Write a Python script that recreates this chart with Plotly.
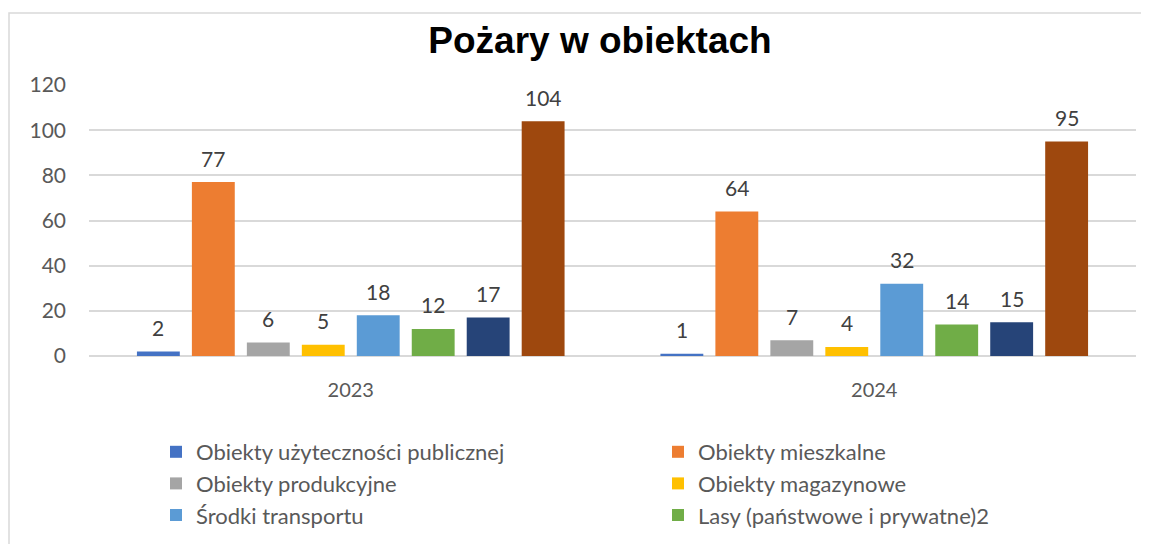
import plotly.graph_objects as go

categories = ["2023", "2024"]
series_names = [
    "Obiekty użyteczności publicznej",
    "Obiekty mieszkalne",
    "Obiekty produkcyjne",
    "Obiekty magazynowe",
    "Środki transportu",
    "Lasy (państwowe i prywatne)2",
    "Uprawy, rolnictwo",
    "Inne",
]
series_values = [
    [2, 1],
    [77, 64],
    [6, 7],
    [5, 4],
    [18, 32],
    [12, 14],
    [17, 15],
    [104, 95],
]
series_colors = ["#4472C4", "#ED7D31", "#A5A5A5", "#FFC000",
                 "#5B9BD5", "#70AD47", "#264478", "#9E480E"]
show_in_legend = [True, True, True, True, True, True, False, False]
y_ticks = [0, 20, 40, 60, 80, 100, 120]

FONT = "Lato, 'Open Sans', sans-serif"

# page has an 8px body margin; figure sized so it fits the 1149x544 window
W, H = 1141, 536
L, R, T, B = 81, 13, 77, 188
pw, ph = W - L - R, H - T - B
BARGAP, GROUPGAP = 0.16, 0.22
n_series = len(series_names)
slot = (pw / len(categories)) * (1 - BARGAP) / n_series

fig = go.Figure()
annotations = []
for i, (name, vals, col, sl) in enumerate(zip(series_names, series_values, series_colors, show_in_legend)):
    fig.add_trace(go.Bar(
        name=name, x=categories, y=vals,
        marker=dict(color=col, line=dict(width=0)),
        showlegend=sl, hoverinfo="name+y",
    ))
    for j, v in enumerate(vals):
        annotations.append(dict(
            x=j, y=v, xref="x", yref="y", text=str(v), showarrow=False,
            xshift=(i - (n_series - 1) / 2) * slot, yshift=24, yanchor="middle",
            font=dict(size=21, color="#404040", family=FONT),
        ))

fig.update_layout(
    width=W, height=H,
    margin=dict(l=L, r=R, t=T, b=B, autoexpand=False),
    paper_bgcolor="white", plot_bgcolor="white",
    barmode="group", bargap=BARGAP, bargroupgap=GROUPGAP,
    font=dict(family=FONT, color="#595959", size=20),
    title=dict(text="<b>Pożary w obiektach</b>", x=592 / W, xanchor="center",
               y=1 - 32 / H, yanchor="middle",
               font=dict(family="Liberation Sans, Arial, sans-serif", size=37, color="#000000")),
    xaxis=dict(type="category", categoryorder="array", categoryarray=categories,
               showgrid=False, showline=False, ticks="", tickfont=dict(size=20, color="#595959"),
               ticklabelstandoff=20),
    yaxis=dict(range=[0, 120], tickvals=y_ticks, showgrid=True, gridcolor="#D9D9D9", gridwidth=1.5,
               zeroline=True, zerolinecolor="#D9D9D9", zerolinewidth=1.5, showline=False,
               ticks="", tickfont=dict(size=21, color="#595959"), ticklabelstandoff=22),
    legend=dict(orientation="h", x=(148 - L) / pw, xanchor="left",
                y=-(423 - (H - B)) / ph, yanchor="top",
                entrywidth=457, entrywidthmode="pixels", bgcolor="rgba(0,0,0,0)",
                font=dict(size=22, color="#595959", family=FONT),
                itemwidth=30, tracegroupgap=0, traceorder="normal"),
    annotations=annotations,
    shapes=[dict(type="rect", xref="paper", yref="paper",
                 x0=(1 - L) / pw, x1=(W + 20 - L) / pw,
                 y0=-(H + 20 - (H - B)) / ph, y1=((H - B) - 5) / ph,
                 line=dict(color="#D9D9D9", width=1.5), fillcolor="rgba(0,0,0,0)", layer="below")],
)

fig.write_html("out.html")
